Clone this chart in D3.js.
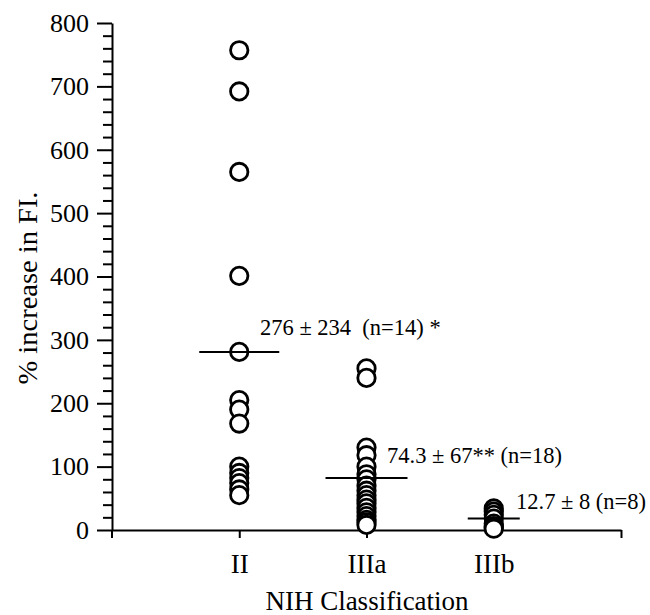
<!DOCTYPE html>
<html>
<head>
<meta charset="utf-8">
<script src="https://cdn.jsdelivr.net/npm/d3@7"></script>
<style>
  body { margin: 0; background: #fff; }
  svg text { font-family: "Liberation Serif", "DejaVu Serif", serif !important; fill: #000; }
</style>
</head>
<body>
<div id="chart"></div>
<script>
// --- data ---
const categories = ["II", "IIIa", "IIIb"];
const valuesII = [757, 692, 565, 401, 281, 205, 190, 168, 100, 90, 82, 74, 64, 55];
const valuesIIIa = [255, 240, 130, 118, 100, 88, 80, 70, 62, 55, 48, 42, 35, 28, 22, 16, 12, 8];
const valuesIIIb = [34, 29, 24, 18, 10, 6, 4, 2];
const meanLines = [281, 82, 18];
const meanLabels = ["276 \u00b1 234  (n=14) *", "74.3 \u00b1 67** (n=18)", "12.7 \u00b1 8 (n=8)"];
const yTicks = [0, 100, 200, 300, 400, 500, 600, 700, 800];

const W = 650, H = 615;
const serif = '"Liberation Serif", "DejaVu Serif", serif';

const svg = d3.select("#chart").append("svg")
    .attr("width", W).attr("height", H);

const x = d3.scaleLinear().domain([0, 4]).range([112, 621]);
const y = d3.scaleLinear().domain([0, 800]).range([530, 23]);

// y axis: minor ticks every 20, major every 100
const minor = d3.range(0, 801, 20).filter(v => v % 100 !== 0);
svg.append("g")
    .attr("transform", "translate(112,0)")
    .call(d3.axisLeft(y).tickValues(minor).tickSize(9).tickSizeOuter(0).tickFormat(""))
    .call(g => g.select(".domain").remove())
    .call(g => g.selectAll("line").attr("stroke-width", 2));

svg.append("g")
    .attr("transform", "translate(112,0)")
    .call(d3.axisLeft(y).tickValues(yTicks).tickSize(15).tickSizeOuter(0).tickPadding(8))
    .call(g => g.select(".domain").attr("stroke-width", 2))
    .call(g => g.selectAll("line").attr("stroke-width", 2))
    .call(g => g.selectAll("text").style("font-size", "26px").style("font-family", serif));

// short piece of the y axis below the x axis
svg.append("line")
    .attr("x1", 112).attr("x2", 112)
    .attr("y1", y(0)).attr("y2", y(0) + 8)
    .attr("stroke", "#000").attr("stroke-width", 2);

// x axis
svg.append("g")
    .attr("transform", `translate(0,${y(0)})`)
    .call(d3.axisBottom(x).tickValues([1, 2, 3, 4]).tickSize(8).tickSizeOuter(0).tickPadding(16)
        .tickFormat(d => categories[d - 1] || ""))
    .call(g => g.select(".domain").attr("stroke-width", 2))
    .call(g => g.selectAll("line").attr("stroke-width", 2))
    .call(g => g.selectAll("text").style("font-size", "27px").style("font-family", serif));

// axis titles
svg.append("text")
    .attr("x", 367).attr("y", 610)
    .attr("text-anchor", "middle")
    .style("font-size", "27px")
    .text("NIH Classification");

svg.append("text")
    .attr("transform", "translate(37,288) rotate(-90)")
    .attr("text-anchor", "middle")
    .style("font-size", "28px")
    .attr("textLength", 193)
    .attr("lengthAdjust", "spacingAndGlyphs")
    .text("% increase in FI.");

// points
const groups = [valuesII, valuesIIIa, valuesIIIb];
const pts = groups.flatMap((vals, i) => vals.map(v => ({ cat: i + 1, v })));

svg.append("g")
    .selectAll("circle")
    .data(pts)
    .join("circle")
    .attr("cx", d => x(d.cat))
    .attr("cy", d => y(d.v))
    .attr("r", 8.7)
    .attr("fill", "#fff")
    .attr("stroke", "#000")
    .attr("stroke-width", 2.8);

// mean lines
const halfW = [40, 41, 26];
svg.append("g")
    .selectAll("line")
    .data(meanLines)
    .join("line")
    .attr("x1", (d, i) => x(i + 1) - halfW[i])
    .attr("x2", (d, i) => x(i + 1) + halfW[i])
    .attr("y1", d => y(d))
    .attr("y2", d => y(d))
    .attr("stroke", "#000")
    .attr("stroke-width", 2);

// annotations
const labelPos = [[260, 335], [387, 463], [516, 509]];
svg.append("g")
    .selectAll("text")
    .data(meanLabels)
    .join("text")
    .attr("x", (d, i) => labelPos[i][0])
    .attr("y", (d, i) => labelPos[i][1])
    .style("font-size", "22.5px")
    .style("white-space", "pre")
    .text(d => d);
</script>
</body>
</html>
